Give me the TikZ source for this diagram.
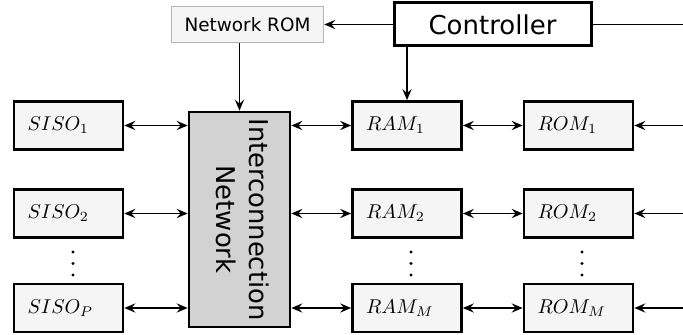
\documentclass[tikz,border=0pt]{standalone}
\usepackage{fontspec}
\usepackage{graphicx}
\newfontfamily\dejavu{DejaVu Sans}
\usetikzlibrary{arrows.meta}
\definecolor{boxfill}{HTML}{F5F5F5}
\definecolor{netfill}{HTML}{D2D2D2}
\definecolor{romborder}{HTML}{B4B4B4}
\begin{document}
\begin{tikzpicture}[x=0.5pt,y=-0.5pt,
  tip/.tip={Stealth[length=5.5pt,width=4.6pt,inset=2pt]},
  unitbox/.style={draw, line width=1.35pt, fill=boxfill, minimum height=24pt,
    text width=41pt, inner xsep=6.75pt, inner ysep=0pt, align=left},
  link/.style={line width=0.95pt, tip-tip},
  arr/.style={line width=0.95pt, -tip},
  plainline/.style={line width=0.95pt},
  dotmark/.style={circle, fill=black, inner sep=0pt, minimum size=1.6pt}
]
\useasboundingbox (0,0) rectangle (683,335);

% top
\node[draw=romborder, line width=0.8pt, fill=boxfill, minimum width=76pt, minimum height=18pt,
      font=\dejavu\fontsize{9.2}{11}\selectfont] (netrom) at (247.5,24.5) {Network ROM};
\node[draw, line width=1.5pt, fill=white, minimum width=98.5pt, minimum height=21.5pt,
      font=\dejavu\fontsize{13}{15}\selectfont] (ctrl) at (492.5,24.5) {Controller};

% interconnection network
\node[draw, line width=1.35pt, fill=netfill, minimum width=50.5pt, minimum height=107.5pt, inner sep=0pt]
  (net) at (239.5,219.5)
  {\rotatebox{-90}{\dejavu\fontsize{12.9}{16.5}\selectfont\begin{tabular}{@{}c@{}}Interconnection\\Network\end{tabular}}};

% left column
\node[unitbox] (s1) at (68.5,125.5) {$SISO_1$};
\node[unitbox] (s2) at (68.5,213.5) {$SISO_2$};
\node[unitbox] (sp) at (68.5,308) {$SISO_P$};

% RAMs
\node[unitbox] (ram1) at (407,125.5) {$RAM_1$};
\node[unitbox] (ram2) at (407,213.5) {$RAM_2$};
\node[unitbox] (ramm) at (407,308) {$RAM_M$};

% ROMs
\node[unitbox] (rom1) at (578.5,125.5) {$ROM_1$};
\node[unitbox] (rom2) at (578.5,213.5) {$ROM_2$};
\node[unitbox] (romm) at (578.5,308) {$ROM_M$};

% free ends on the right border
\coordinate (cR) at (683,24.5);
\coordinate (r1R) at (683,125.5);
\coordinate (r2R) at (683,213.5);
\coordinate (r3R) at (683,308);

% dots
\foreach \xx in {73,411,582}{
  \foreach \yy in {252,263.5,275}{
    \node[dotmark] at (\xx,\yy) {};
  }
}

% connectors
\draw[arr] (ctrl.west) -- (netrom.east);
\draw[plainline] (ctrl.east) -- (cR);
\draw[arr] (netrom.south -| net.north) -- (net.north);
\draw[arr] (ctrl.south -| ram1.north) -- (ram1.north);

\draw[link] (s1.east) -- (s1.east -| net.west);
\draw[link] (s2.east) -- (s2.east -| net.west);
\draw[link] (sp.east) -- (sp.east -| net.west);

\draw[link] (ram1.west -| net.east) -- (ram1.west);
\draw[link] (ram2.west -| net.east) -- (ram2.west);
\draw[link] (ramm.west -| net.east) -- (ramm.west);

\draw[link] (ram1.east) -- (rom1.west);
\draw[link] (ram2.east) -- (rom2.west);
\draw[link] (ramm.east) -- (romm.west);

\draw[arr] (r1R) -- (rom1.east);
\draw[arr] (r2R) -- (rom2.east);
\draw[arr] (r3R) -- (romm.east);
\end{tikzpicture}
\end{document}
